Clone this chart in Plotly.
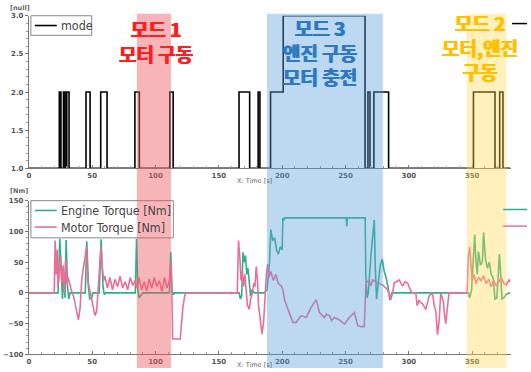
import plotly.graph_objects as go

# ---- data ----
mode_t = [0, 24, 25.3, 27.3, 28.6, 29.9, 31.7, 45.1, 48.3, 56.7, 61.7, 83.7, 87.2,
          111.3, 113.9, 165.9, 174.3, 181, 182.4, 190.8, 200.8, 265.4, 267.7, 269.3,
          272.4, 284, 351, 368, 371.7, 374.3, 380]
mode_v = [1, 2, 1, 2, 1, 2, 1, 2, 1, 2, 1, 2, 1, 2, 1, 2, 1, 2, 1, 2, 3, 1, 2, 1,
          2, 1, 2, 1, 2, 1, 1]

engine_t = [0, 23, 24.4, 25.5, 26.5, 27.5, 28.5, 29.4, 30.5, 31.5, 32.5, 44.5, 45.7,
            47, 48, 49.6, 50.5, 55.5, 57, 58.5, 59.5, 60.5, 84, 85, 86, 87, 89, 90,
            111, 112, 113, 114, 115, 166, 167, 168, 169, 170, 171, 172, 173, 174, 175,
            176, 178, 186, 188, 190, 191, 192.5, 194, 195.5, 197, 198.5, 200, 200.5,
            201.5, 202, 250.5, 251, 251.5, 265.5, 266, 267, 268, 270, 272.7, 273.5,
            274.5, 276, 277.5, 279, 280.5, 282, 283.5, 285, 286.5, 347, 348, 349.5,
            351, 352, 353, 354, 355, 356.5, 358, 359, 360.5, 362, 363.5, 365, 366.5,
            368, 369.5, 370.5, 371.5, 372.5, 373.5, 375, 377, 380]
engine_v = [0, 0, 88, 20, -10, 30, -8, 86, 10, -10, 0, 0, 84,
            10, -10, -8, 0, 0, 87, 10, -3, 0, 0, 88, 5, -8, -3, 0,
            0, 67, 5, -3, 0, 0, -10, -5, 66, 50, 61, 30, 40, 20, -5,
            5, 0, 0, 5, 50, 103, 85, 90, 70, 63, 75, 70, 122,
            118, 122, 122, 108, 122, 122, 30, -8, 0, 60, 119, 40,
            -10, 20, 45, 55, 35, 25, 10, -12, 0, 0, -8, 5,
            60, 95, 50, 30, 67, 45, 50, 98, 55, 40, 50, 30, 25,
            -10, -8, 40, 63, 30, -10, -8, -2, 0]

motor_t = [0, 20, 20.7, 21.5, 22.3, 23, 24, 25, 26, 27, 28, 29, 30, 31, 32.5, 34, 35.2,
           37.8, 39.1, 40.4, 41.7, 43, 44.4, 45.5, 46.5, 48, 49.6, 51, 52.2, 53.5,
           54.9, 56, 56.9, 58, 59, 60, 62, 64, 66, 68, 70, 72, 74, 76, 78, 80, 82, 84,
           85.5, 87, 89, 91, 93, 95, 97, 99, 101, 103, 105, 107, 109, 111, 112, 112.8,
           113.5, 119.5, 120.5, 121.5, 123, 124, 164.5, 165.5, 166.5, 167.5, 168.5,
           169.5, 170.5, 171.5, 172.5, 174, 175, 176.5, 177.5, 178.5, 179.5, 180.5,
           181.3, 182.5, 184, 185.3, 186.6, 187.5, 188.5, 189.5, 191, 193, 195, 197,
           199, 200.5, 202, 204.5, 206, 208.4, 211, 213, 215, 219, 221, 222.8, 226.8,
           228, 229.4, 233.3, 235, 237.3, 239, 241.2, 243, 245.1, 249.1, 251, 253, 257,
           259.6, 262.2, 264.8, 266.1, 268.8, 270, 271.4, 275.3, 279.3, 283.2, 285.8,
           287.2, 288.4, 290, 292.4, 295, 297, 299, 301.6, 302.9, 305.5, 306.5, 308,
           309.4, 310.8, 313.4, 316, 318.7, 320, 321.3, 322.6, 323.9, 325.2, 327.3,
           327.8, 329.1, 330.5, 331.7, 346, 347, 348, 349, 350, 351.5, 353, 355, 357,
           359, 361, 363, 365, 367, 369, 371, 373, 375, 377, 379, 380]
motor_v = [0, 0, 85, 30, 70, 10, 35, 60, 15, 45, 0, 55, 15, 25, 13, 0, -5,
           -32, -44, -25, 21, 40, 60, 75, 20, 5, -11, -25, -37, -30,
           11, 60, 75, 40, 20, 27, 8, 25, 5, 22, 10, 27, 8, 18, 5, 25, 12, 20,
           8, 25, 5, 18, 3, 22, 8, 25, 10, 20, 2, 25, 8, 20, 50, 10,
           -75, -75, -40, -25, -5, 0, 0, 85, 60, 20, 35,
           10, 30, 5, -20, -27, -10, 0, 16, 10, 43, 20,
           -21, -40, -67, -48, 11, 30, 47, 25, 35, 20, 30, 15,
           12, 5, -13, -27, -35, -48, -48, -42, -37, -40, -30, -24, -11,
           -20, -32, -40, -35, -37, -45, -40, -42, -44, -51, -45, -40, -32,
           -53, -55, -55, 16, 21, 11, 21, 16, 13, 5, -11,
           0, 16, 18, 21, 11, 18, 16, 3, 0, 0, -21, -12,
           -16, -18, -27, -5, 0, -21, -30, -68, -45, 0, -15,
           -30, -50, -25, 0, 0, 60, 75, 40, 20, 30, 15, 25, 20,
           28, 15, 22, 10, 20, 12, 18, 25, 15, 13, 21, 18]

x_ticks = [0, 50, 100, 150, 200, 250, 300, 350]
mode_ticks = [1.0, 1.5, 2.0, 2.5, 3.0]
torque_ticks = [-100, -50, 0, 50, 100, 150]

MODE_COLOR = "black"
ENGINE_COLOR = "#2fb088"
MOTOR_COLOR = "#ea6f98"

# operating-mode bands: (start, end, fill, label lines, text colour, centre x px, first line y px)
bands = [
    (85.2, 112.2, "rgba(240,90,100,0.45)", ["모드 1", "모터 구동"], "#ff1f1f", 155, 26),
    (188, 279.5, "rgba(90,160,220,0.40)", ["모드 3", "엔진 구동", "모터 충전"], "#2f79c2", 319, 25),
    (345.7, 377, "rgba(255,215,80,0.38)", ["모드 2", "모터,엔진", "구동"], "#ffc000", 480, 20),
]
BAND_FONT = 19

W, H = 531, 372
X0, X1 = 0, 380.7


def py(px):
    return 1 - px / H


fig = go.Figure()
fig.add_trace(go.Scatter(x=mode_t, y=mode_v, mode="lines", line_shape="hv", name="mode",
                         line=dict(color=MODE_COLOR, width=1.6), xaxis="x", yaxis="y"))
fig.add_trace(go.Scatter(x=engine_t, y=engine_v, mode="lines", name="Engine Torque [Nm]",
                         line=dict(color=ENGINE_COLOR, width=1.6), xaxis="x2", yaxis="y2"))
fig.add_trace(go.Scatter(x=motor_t, y=motor_v, mode="lines", name="Motor Torque [Nm]",
                         line=dict(color=MOTOR_COLOR, width=1.6), xaxis="x2", yaxis="y2"))

tickfont = dict(size=7, color="#555", family="DejaVu Sans", weight="bold")
xdom = [27 / W, 511 / W]
axis_common = dict(showgrid=False, zeroline=False, showline=True, linecolor="#777",
                   linewidth=1, ticklen=3, tickcolor="#777", tickfont=tickfont)
xminor = dict(dtick=10, ticks="inside", ticklen=2, tickcolor="#999")

fig.update_layout(
    width=W, height=H, margin=dict(l=0, r=0, t=0, b=0),
    paper_bgcolor="white", plot_bgcolor="white", showlegend=False,
    xaxis=dict(domain=xdom, range=[X0, X1], anchor="y", tickvals=x_ticks,
               ticks="inside", minor=xminor, **axis_common),
    yaxis=dict(domain=[py(168), py(12)], range=[1, 3], anchor="x", tickvals=mode_ticks,
               tickformat=".1f", ticks="outside",
               minor=dict(dtick=0.1, ticks="outside", ticklen=2, tickcolor="#999"),
               **axis_common),
    xaxis2=dict(domain=xdom, range=[X0, X1], anchor="y2", tickvals=x_ticks,
                ticks="inside", minor=xminor, **axis_common),
    yaxis2=dict(domain=[py(358), py(201)], range=[-100, 150], anchor="x2",
                tickvals=torque_ticks, ticks="outside",
                minor=dict(dtick=10, ticks="outside", ticklen=2, tickcolor="#999"),
                **axis_common),
)

small = dict(size=6.5, color="#666", family="DejaVu Sans")
annotations = [
    dict(text="<b>[null]</b>", x=6 / W, y=py(4), xref="paper", yref="paper",
         showarrow=False, font=small, xanchor="left", yanchor="middle"),
    dict(text="<b>[Nm]</b>", x=6 / W, y=py(191), xref="paper", yref="paper",
         showarrow=False, font=small, xanchor="left", yanchor="middle"),
    dict(text="X: Time [s]", x=253 / W, y=py(181), xref="paper", yref="paper",
         showarrow=False, font=small, xanchor="center", yanchor="middle"),
    dict(text="X: Time [s]", x=253 / W, y=py(369), xref="paper", yref="paper",
         showarrow=False, font=small, xanchor="center", yanchor="middle"),
]
shapes = []

# legend boxes: (box x0, x1, y0, y1 in px, [(label, colour, row y px)])
legend_font = dict(size=12.4, color="#444", family="DejaVu Sans Condensed")
legends = [
    (29, 90, 12, 32, [("mode", MODE_COLOR, 22)]),
    (29, 172, 201, 239, [("Engine Torque [Nm]", ENGINE_COLOR, 211),
                         ("Motor Torque [Nm]", MOTOR_COLOR, 228)]),
]
for bx0, bx1, by0, by1, items in legends:
    shapes.append(dict(type="rect", xref="paper", yref="paper", x0=bx0 / W, x1=bx1 / W,
                       y0=py(by1), y1=py(by0), line=dict(color="#888", width=1),
                       fillcolor="rgba(0,0,0,0)", layer="above"))
    for label, col, ry in items:
        shapes.append(dict(type="line", xref="paper", yref="paper", x0=33 / W, x1=55 / W,
                           y0=py(ry), y1=py(ry), line=dict(color=col, width=1.6),
                           layer="above"))
        annotations.append(dict(text=label, x=57 / W, y=py(ry), xref="paper",
                                yref="paper", showarrow=False, xanchor="left",
                                yanchor="middle", font=legend_font))

for start, end, fill, lines, tcolor, cx, y_first in bands:
    shapes.append(dict(type="rect", xref="x", yref="paper", x0=start, x1=end,
                       y0=0, y1=py(10), fillcolor=fill, line=dict(width=0),
                       layer="above"))
    # one multi-line label per band, anchored by the centre of its first line
    top_px = y_first - BAND_FONT * 0.85
    annotations.append(dict(text="<br>".join(f"<b>{t}</b>" for t in lines),
                            x=cx / W, y=py(top_px), xref="paper", yref="paper",
                            showarrow=False, xanchor="center", yanchor="top",
                            align="center", borderpad=0,
                            font=dict(size=BAND_FONT, color=tcolor,
                                      family="Noto Sans CJK KR",
                                      shadow=f"0.6px 0 0 {tcolor}, -0.6px 0 0 {tcolor}")))

# short legend stubs at the right margin
for x0p, x1p, ypx, col in [(512, 527, 20, MODE_COLOR), (503, 527, 210, ENGINE_COLOR),
                           (503, 527, 227, MOTOR_COLOR)]:
    shapes.append(dict(type="line", xref="paper", yref="paper", x0=x0p / W, x1=x1p / W,
                       y0=py(ypx), y1=py(ypx), line=dict(color=col, width=1.5)))

fig.update_layout(shapes=shapes, annotations=annotations)
fig.write_html("out.html")
